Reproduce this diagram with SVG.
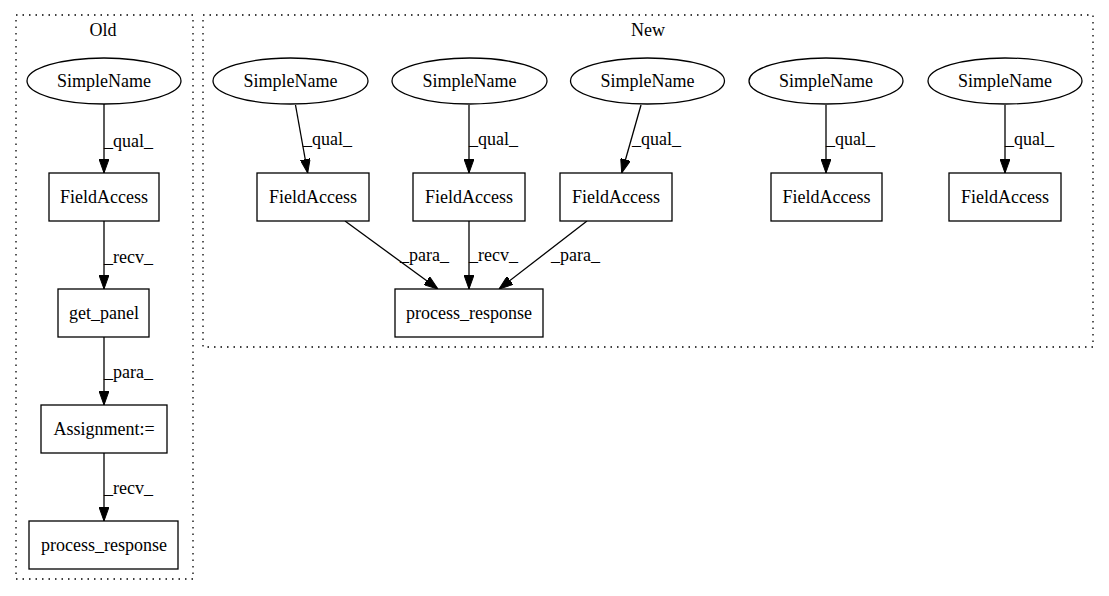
<svg xmlns="http://www.w3.org/2000/svg" width="1109" height="596" viewBox="0 0 1109 596">
<style>
  text { font-family: "Liberation Serif", "Times New Roman", serif; font-size: 18px; fill: #000; }
  .n { text-anchor: middle; }
  .cl { fill: none; stroke: #000; stroke-width: 1.3; stroke-dasharray: 1.5 5; }
  .box { fill: #fff; stroke: #000; stroke-width: 1.3; }
  .e { fill: none; stroke: #000; stroke-width: 1.3; }
</style>
<defs>
  <marker id="arr" viewBox="0 0 14 10" refX="14" refY="5" markerWidth="14" markerHeight="10" markerUnits="userSpaceOnUse" orient="auto">
    <path d="M0,0 L14,5 L0,10 Z" fill="#000" stroke="#000" stroke-width="1"/>
  </marker>
</defs>
<rect width="1109" height="596" fill="#fff"/>

<g id="cluster_old">
  <rect class="cl" x="16" y="15" width="177" height="564"/>
  <text class="n" x="103" y="36">Old</text>
</g>
<g id="cluster_new">
  <rect class="cl" x="203" y="15" width="890" height="332"/>
  <text class="n" x="648" y="36">New</text>
</g>

<g id="connectors">
  <path class="e" marker-end="url(#arr)" d="M104,104 L104,173"/>
  <text x="104" y="147">_qual_</text>
  <path class="e" marker-end="url(#arr)" d="M104,221 L104,289"/>
  <text x="104" y="263">_recv_</text>
  <path class="e" marker-end="url(#arr)" d="M104,337 L104,405"/>
  <text x="104" y="378">_para_</text>
  <path class="e" marker-end="url(#arr)" d="M104,453 L104,521"/>
  <text x="104" y="494">_recv_</text>

  <path class="e" marker-end="url(#arr)" d="M295.5,105 L307.7,173"/>
  <text x="303" y="145">_qual_</text>
  <path class="e" marker-end="url(#arr)" d="M469,105 L469,173"/>
  <text x="469" y="145">_qual_</text>
  <path class="e" marker-end="url(#arr)" d="M641,105 L621.7,173"/>
  <text x="632" y="145">_qual_</text>
  <path class="e" marker-end="url(#arr)" d="M826,105 L826,173"/>
  <text x="826" y="145">_qual_</text>
  <path class="e" marker-end="url(#arr)" d="M1005,105 L1005,173"/>
  <text x="1005" y="145">_qual_</text>

  <path class="e" marker-end="url(#arr)" d="M345,221 L438,289"/>
  <text x="400" y="261">_para_</text>
  <path class="e" marker-end="url(#arr)" d="M469,221 L469,289"/>
  <text x="469" y="261">_recv_</text>
  <path class="e" marker-end="url(#arr)" d="M587,221 L499,289"/>
  <text x="551" y="261">_para_</text>
</g>

<g id="old_simplename">
  <ellipse class="box" cx="104" cy="81" rx="77" ry="23"/>
  <text class="n" x="104" y="87">SimpleName</text>
</g>
<g id="old_fieldaccess">
  <rect class="box" x="49" y="173" width="110" height="48"/>
  <text class="n" x="104" y="203">FieldAccess</text>
</g>
<g id="old_get_panel">
  <rect class="box" x="58" y="289" width="91" height="48"/>
  <text class="n" x="104" y="319">get_panel</text>
</g>
<g id="old_assignment">
  <rect class="box" x="41" y="405" width="126" height="48"/>
  <text class="n" x="104" y="435">Assignment:=</text>
</g>
<g id="old_process_response">
  <rect class="box" x="29" y="521" width="149" height="48"/>
  <text class="n" x="104" y="551">process_response</text>
</g>

<g id="new_simplename_1">
  <ellipse class="box" cx="290.5" cy="81" rx="77.5" ry="23"/>
  <text class="n" x="290.5" y="87">SimpleName</text>
</g>
<g id="new_simplename_2">
  <ellipse class="box" cx="469.5" cy="81" rx="77.5" ry="23"/>
  <text class="n" x="469.5" y="87">SimpleName</text>
</g>
<g id="new_simplename_3">
  <ellipse class="box" cx="647.5" cy="81" rx="77" ry="23"/>
  <text class="n" x="647.5" y="87">SimpleName</text>
</g>
<g id="new_simplename_4">
  <ellipse class="box" cx="826" cy="81" rx="77" ry="23"/>
  <text class="n" x="826" y="87">SimpleName</text>
</g>
<g id="new_simplename_5">
  <ellipse class="box" cx="1005" cy="81" rx="77" ry="23"/>
  <text class="n" x="1005" y="87">SimpleName</text>
</g>

<g id="new_fieldaccess_1">
  <rect class="box" x="257" y="173" width="112" height="48"/>
  <text class="n" x="313" y="203">FieldAccess</text>
</g>
<g id="new_fieldaccess_2">
  <rect class="box" x="413" y="173" width="112" height="48"/>
  <text class="n" x="469" y="203">FieldAccess</text>
</g>
<g id="new_fieldaccess_3">
  <rect class="box" x="560" y="173" width="112" height="48"/>
  <text class="n" x="616" y="203">FieldAccess</text>
</g>
<g id="new_fieldaccess_4">
  <rect class="box" x="771" y="173" width="111" height="48"/>
  <text class="n" x="826.5" y="203">FieldAccess</text>
</g>
<g id="new_fieldaccess_5">
  <rect class="box" x="949" y="173" width="112" height="48"/>
  <text class="n" x="1005" y="203">FieldAccess</text>
</g>

<g id="new_process_response">
  <rect class="box" x="395" y="289" width="148" height="48"/>
  <text class="n" x="469" y="319">process_response</text>
</g>
</svg>
